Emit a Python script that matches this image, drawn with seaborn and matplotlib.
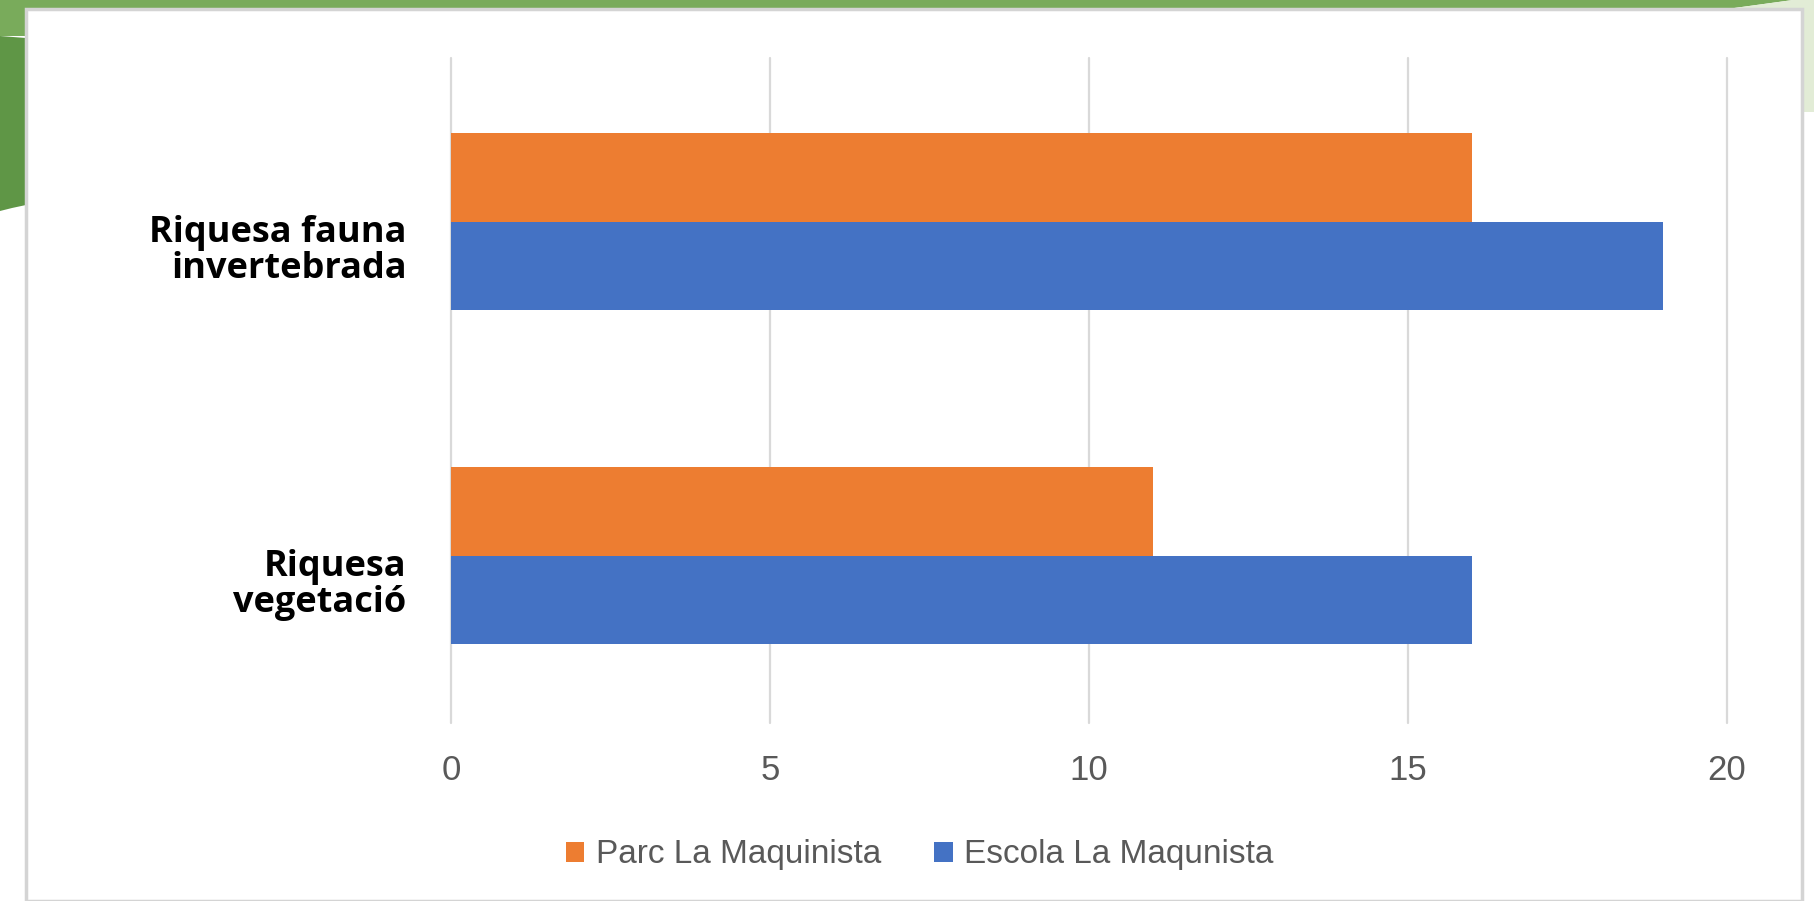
import pandas as pd
import matplotlib
matplotlib.use("Agg")
import matplotlib.pyplot as plt
import seaborn as sns
from matplotlib.patches import Polygon, Rectangle
from matplotlib.transforms import ScaledTranslation

# data
categories = ["Riquesa fauna\ninvertebrada", "Riquesa\nvegetació"]
series = ["Parc La Maquinista", "Escola La Maqunista"]
parc_values = [16, 11]
escola_values = [19, 16]
x_ticks = [0, 5, 10, 15, 20]

colors = ["#ED7D31", "#4472C4"]

df = pd.DataFrame({
    "category": categories * 2,
    "series": [series[0]] * 2 + [series[1]] * 2,
    "value": parc_values + escola_values,
})

sns.set_style("white")
plt.rcParams["font.family"] = ["Liberation Sans", "DejaVu Sans"]

W, H = 1814, 901
fig = plt.figure(figsize=(W / 100, H / 100), dpi=100)
fig.patch.set_facecolor("white")


def px(x, y):
    return (x / W, 1 - y / H)


# slide background bits (green band, corners) and the white chart panel
deco = [
    (Polygon([px(0, 0), px(1793, 0), px(1727, 9), px(0, 9)]), "#79ab5b"),
    (Polygon([px(1793, 0), px(1814, 0), px(1814, 112), px(1803, 112), px(1803, 9), px(1727, 9)]), "#e2ecd6"),
    (Polygon([px(0, 9), px(26, 9), px(26, 36), px(0, 36)]), "#79ab5b"),
    (Polygon([px(0, 36), px(26, 38), px(26, 205), px(12, 208), px(0, 211)]), "#5f9646"),
]
for patch, col in deco:
    patch.set_transform(fig.transFigure)
    patch.set_facecolor(col)
    patch.set_edgecolor("none")
    patch.set_zorder(0)
    fig.add_artist(patch)

panel = Rectangle(px(26, 901), (1802 - 26) / W, (901 - 9) / H, transform=fig.transFigure,
                  facecolor="white", edgecolor="#d4d4d4", lw=2.5, zorder=0.5)
fig.add_artist(panel)

ax = fig.add_axes([451 / W, 1 - 723 / H, (1727 - 451) / W, (723 - 58) / H])
ax.set_zorder(2)
ax.set_facecolor("none")

sns.barplot(data=df, x="value", y="category", hue="series", order=categories,
            hue_order=series, palette=colors, saturation=1, width=0.53,
            errorbar=None, linewidth=0, ax=ax)

ax.set_xlim(0, 20)
ax.set_ylim(1.5, -0.49)
ax.set_xticks(x_ticks)
ax.set_xticklabels([str(t) for t in x_ticks])
ax.set_xlabel("")
ax.set_ylabel("")
sns.despine(ax=ax, left=True, bottom=True)
ax.xaxis.grid(True, color="#d9d9d9", lw=1.6)
ax.yaxis.grid(False)
ax.set_axisbelow(True)
for gl in ax.get_xgridlines():
    gl.set_clip_on(False)

ax.tick_params(axis="x", length=0, pad=22, labelsize=25, labelcolor="#595959")
ax.tick_params(axis="y", length=0, pad=32)
for lab in ax.get_yticklabels():
    lab.set_fontfamily(["Open Sans", "DejaVu Sans"])
    lab.set_fontweight("bold")
    lab.set_fontsize(26)
    lab.set_color("black")
    lab.set_linespacing(1.0)
    lab.set_multialignment("right")
    lab.set_transform(lab.get_transform() + ScaledTranslation(0, -0.25, fig.dpi_scale_trans))

handles, labels = ax.get_legend_handles_labels()
ax.get_legend().remove()
leg = fig.legend(handles, labels, loc="center", bbox_to_anchor=(0.507, 1 - 855 / H),
                 ncol=2, frameon=False, fontsize=24, handlelength=0.55, handleheight=0.55,
                 handletextpad=0.35, columnspacing=1.6, labelcolor="#595959")
leg.set_zorder(3)

fig.savefig("out.png", dpi=100)
